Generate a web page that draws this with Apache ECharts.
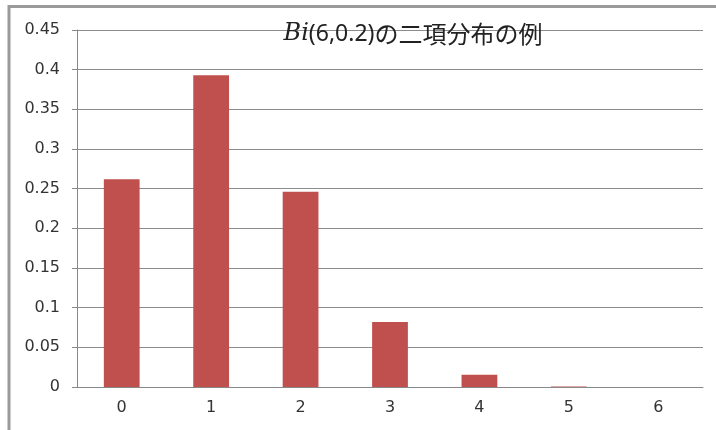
<!DOCTYPE html>
<html>
<head>
<meta charset="utf-8">
<script src="https://cdn.jsdelivr.net/npm/echarts@6/dist/echarts.min.js"></script>
<style>
  html, body { margin: 0; padding: 0; background: #fff; }
  #chart { width: 716px; height: 430px; }
</style>
</head>
<body>
<div id="chart"></div>
<script>
  // 成功回数 k
  var categories = ['0', '1', '2', '3', '4', '5', '6'];
  // P(X = k), Bi(6, 0.2)
  var probs = [0.262, 0.393, 0.246, 0.082, 0.0154, 0.0005, 0.0001];

  var chart = echarts.init(document.getElementById('chart'));
  var labelFont = { color: '#333', fontSize: 16, fontFamily: 'DejaVu Sans' };

  var option = {
    animation: false,
    title: {
      text: '{i|Bi}{s|(6,0.2)}の二項分布の例',
      left: 408,
      top: 17,
      textAlign: 'center',
      textStyle: {
        fontSize: 24,
        fontWeight: 'normal',
        color: '#222',
        fontFamily: 'Noto Sans CJK JP',
        rich: {
          i: { fontSize: 24, fontStyle: 'italic', fontFamily: 'DejaVu Serif', color: '#222' },
          s: { fontSize: 23, fontFamily: 'Noto Sans', color: '#222' }
        }
      }
    },
    grid: { left: 77, right: 13, top: 30, bottom: 43 },
    graphic: [
      {
        type: 'polyline',
        shape: { points: [[9, 430], [9, 6.5], [716, 6.5]] },
        style: { stroke: '#9a9a9a', lineWidth: 3, fill: null },
        z: 100
      }
    ],
    xAxis: {
      type: 'category',
      data: categories,
      z: 5,
      axisLine: { lineStyle: { color: '#888' } },
      axisTick: { length: 5, lineStyle: { color: '#888' } },
      axisLabel: Object.assign({ margin: 13 }, labelFont)
    },
    yAxis: {
      type: 'value',
      min: 0,
      max: 0.45,
      interval: 0.05,
      axisLine: { show: true, lineStyle: { color: '#888' } },
      axisTick: { show: true, length: 5, lineStyle: { color: '#888' } },
      axisLabel: Object.assign({ margin: 17 }, labelFont),
      splitLine: { lineStyle: { color: '#8c8c8c' } }
    },
    series: [
      {
        type: 'bar',
        data: probs,
        barWidth: '40%',
        itemStyle: { color: '#C0504D' }
      }
    ]
  };

  chart.setOption(option);
</script>
</body>
</html>
